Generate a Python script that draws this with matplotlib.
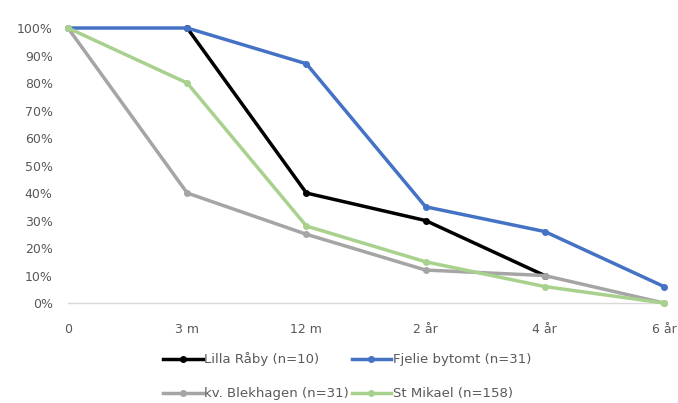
import matplotlib
matplotlib.use("Agg")
import matplotlib.pyplot as plt
from matplotlib.ticker import PercentFormatter
import numpy as np

periods = ["0", "3 m", "12 m", "2 år", "4 år", "6 år"]
lilla_raby = [np.nan, 100, 40, 30, 10, np.nan]
fjelie_bytomt = [100, 100, 87, 35, 26, 6]
kv_blekhagen = [100, 40, 25, 12, 10, 0]
st_mikael = [100, 80, 28, 15, 6, 0]

series = [
    ("Lilla Råby (n=10)", lilla_raby, "#000000"),
    ("Fjelie bytomt (n=31)", fjelie_bytomt, "#4472C4"),
    ("kv. Blekhagen (n=31)", kv_blekhagen, "#A5A5A5"),
    ("St Mikael (n=158)", st_mikael, "#A9D18E"),
]

plt.rcParams["font.family"] = ["DejaVu Sans"]

fig = plt.figure(figsize=(6.78, 4.03), dpi=100)
ax = fig.add_axes([0.1003, 0.248, 0.8790, 0.6825])

x = np.arange(len(periods))
lines = {}
for label, vals, color in series:
    (ln,) = ax.plot(x, np.array(vals, dtype=float) / 100, color=color, lw=2.5,
                    marker="o", ms=4, label=label, clip_on=False, zorder=3)
    lines[label] = ln

ax.set_xlim(0, len(periods) - 1)
ax.set_ylim(0, 1)
ax.set_xticks(x)
ax.set_xticklabels(periods)
ax.set_yticks(np.arange(0, 1.01, 0.1))
ax.yaxis.set_major_formatter(PercentFormatter(1.0, decimals=0))

for side in ("top", "right", "left"):
    ax.spines[side].set_visible(False)
ax.spines["bottom"].set_color("#D9D9D9")
ax.spines["bottom"].set_linewidth(1)
ax.tick_params(axis="both", length=0, labelsize=9, labelcolor="#595959")
ax.tick_params(axis="x", pad=14)
ax.tick_params(axis="y", pad=11)

# legend laid out row by row: two entries per row
order = [series[0][0], series[2][0], series[1][0], series[3][0]]
fig.legend([lines[k] for k in order], order, loc="center",
           bbox_to_anchor=(0.512, 0.066), ncol=2, frameon=False,
           fontsize=9.5, labelcolor="#595959", handlelength=3.0, handletextpad=0.1,
           columnspacing=0.2, labelspacing=1.6)

fig.savefig("out.png", dpi=100)
